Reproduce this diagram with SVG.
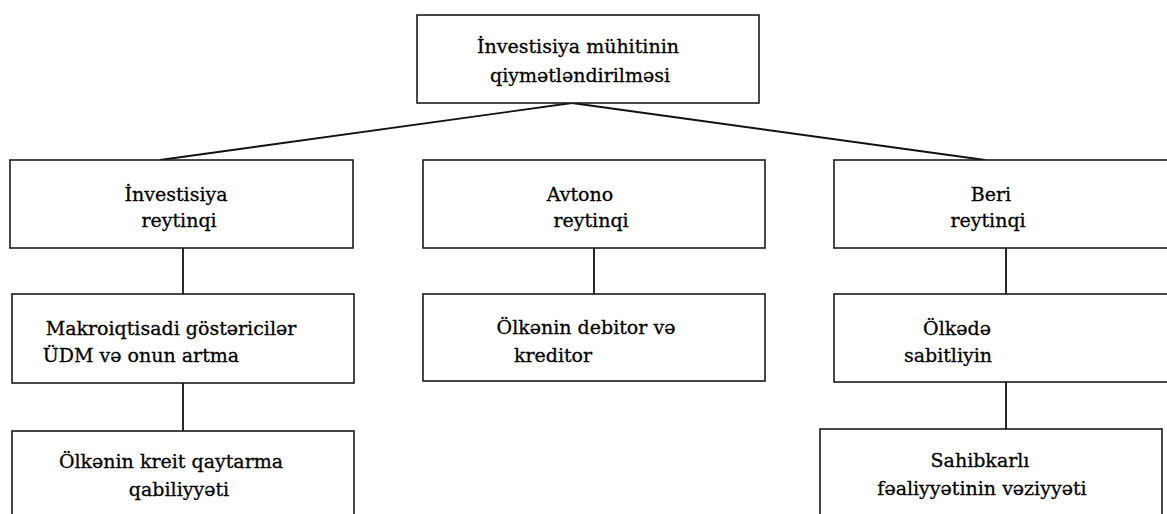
<svg xmlns="http://www.w3.org/2000/svg" width="1167" height="514" viewBox="0 0 1167 514">
<style>
.box{fill:#fff;stroke:#1a1a1a;stroke-width:1.6}
.ln{stroke:#111;stroke-width:1.8;fill:none}
text{font-family:"DejaVu Serif","Liberation Serif",serif;font-size:19px;fill:#000;stroke:#000;stroke-width:0.3;text-anchor:middle}
</style>
<rect width="1167" height="514" fill="#fff"/>
<g id="connectors">
<line class="ln" x1="572" y1="103" x2="160" y2="160"/>
<line class="ln" x1="572" y1="103" x2="985" y2="160"/>
<line class="ln" x1="183" y1="248" x2="183" y2="294"/>
<line class="ln" x1="183" y1="383" x2="183" y2="431"/>
<line class="ln" x1="594" y1="248" x2="594" y2="294"/>
<line class="ln" x1="1006" y1="248" x2="1006" y2="294"/>
<line class="ln" x1="1006" y1="382" x2="1006" y2="429"/>
</g>
<g id="n-root">
<rect class="box" x="417" y="15" width="342" height="88"/>
<text x="578" y="53">İnvestisiya mühitinin</text>
<text x="580" y="82">qiymətləndirilməsi</text>
</g>
<g id="n-inv">
<rect class="box" x="10" y="160" width="343" height="88"/>
<text x="176" y="201">İnvestisiya</text>
<text x="179" y="227">reytinqi</text>
</g>
<g id="n-avt">
<rect class="box" x="423" y="160" width="342" height="88"/>
<text x="580" y="201">Avtono</text>
<text x="591" y="227">reytinqi</text>
</g>
<g id="n-beri">
<rect class="box" x="834" y="160" width="345" height="88"/>
<text x="991" y="201">Beri</text>
<text x="988" y="227">reytinqi</text>
</g>
<g id="n-makro">
<rect class="box" x="12" y="294" width="342" height="89"/>
<text x="171" y="335">Makroiqtisadi göstəricilər</text>
<text x="141" y="362">ÜDM və onun artma</text>
</g>
<g id="n-debitor">
<rect class="box" x="423" y="294" width="342" height="87"/>
<text x="586" y="334">Ölkənin debitor və</text>
<text x="553" y="362">kreditor</text>
</g>
<g id="n-sabit">
<rect class="box" x="834" y="294" width="345" height="88"/>
<text x="957" y="335">Ölkədə</text>
<text x="948" y="362">sabitliyin</text>
</g>
<g id="n-kredit">
<rect class="box" x="12" y="431" width="342" height="100"/>
<text x="171" y="468">Ölkənin kreit qaytarma</text>
<text x="179" y="496">qabiliyyəti</text>
</g>
<g id="n-sahib">
<rect class="box" x="820" y="429" width="342" height="100"/>
<text x="980" y="467">Sahibkarlı</text>
<text x="982" y="495">fəaliyyətinin vəziyyəti</text>
</g>
</svg>
